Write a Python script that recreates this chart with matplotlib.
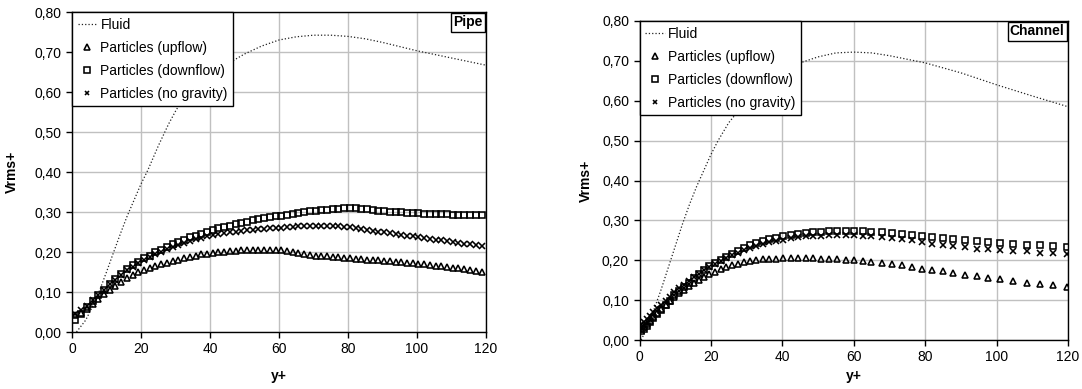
import matplotlib
matplotlib.use('Agg')
import matplotlib.pyplot as plt
from matplotlib.ticker import FixedLocator

plt.rcParams['font.family'] = ['Liberation Sans', 'DejaVu Sans']

# ---------------------------------------------------------------
# data
# ---------------------------------------------------------------
y_ticks = [0.0, 0.1, 0.2, 0.3, 0.4, 0.5, 0.6, 0.7, 0.8]
y_tick_labels = ['0,00', '0,10', '0,20', '0,30', '0,40', '0,50', '0,60', '0,70', '0,80']
x_ticks = [0, 20, 40, 60, 80, 100, 120]

# pipe
pipe_fluid_x = [1.3, 4, 6, 8, 10, 12, 14, 16, 18, 20, 22, 25, 28, 30, 33, 36, 40, 45, 50,
                55, 60, 65, 70, 75, 80, 85, 90, 100, 110, 120]
pipe_fluid = [0.0, 0.03, 0.065, 0.104, 0.15, 0.198, 0.245, 0.29, 0.33, 0.37, 0.405, 0.465,
              0.52, 0.552, 0.595, 0.625, 0.648, 0.670, 0.695, 0.715, 0.730, 0.738, 0.742,
              0.742, 0.739, 0.733, 0.724, 0.703, 0.685, 0.667]

pipe_x = [1, 2.7, 4.3, 6, 7.6, 9.3, 11, 12.6, 14.3, 15.9, 17.6, 19.2, 20.9, 22.6, 24.2,
          25.9, 27.5, 29.2, 30.8, 32.5, 34.2, 35.8, 37.5, 39.1, 40.8, 42.4, 44.1, 45.8,
          47.4, 49.1, 50.7, 52.4, 54, 55.7, 57.4, 59, 60.7, 62.3, 64, 65.6, 67.3, 69, 70.6,
          72.3, 73.9, 75.6, 77.2, 78.9, 80.6, 82.2, 83.9, 85.5, 87.2, 88.8, 90.5, 92.2,
          93.8, 95.5, 97.1, 98.8, 100.4, 102.1, 103.8, 105.4, 107.1, 108.7, 110.4, 112,
          113.7, 115.4, 117, 118.7]
pipe_up = [0.042, 0.048, 0.058, 0.071, 0.082, 0.094, 0.106, 0.116, 0.126, 0.135, 0.142,
           0.149, 0.155, 0.160, 0.165, 0.169, 0.173, 0.177, 0.181, 0.185, 0.188, 0.191,
           0.194, 0.196, 0.198, 0.200, 0.201, 0.202, 0.203, 0.204, 0.204, 0.205, 0.205,
           0.205, 0.205, 0.205, 0.204, 0.203, 0.200, 0.197, 0.195, 0.193, 0.191, 0.190,
           0.189, 0.188, 0.187, 0.185, 0.184, 0.183, 0.182, 0.181, 0.180, 0.179, 0.178,
           0.177, 0.176, 0.175, 0.173, 0.172, 0.170, 0.169, 0.167, 0.166, 0.164, 0.162,
           0.160, 0.159, 0.157, 0.155, 0.152, 0.149]
pipe_down = [0.030, 0.045, 0.062, 0.078, 0.092, 0.106, 0.120, 0.133, 0.146, 0.157, 0.167,
             0.176, 0.184, 0.191, 0.199, 0.206, 0.212, 0.219, 0.225, 0.231, 0.237, 0.241,
             0.246, 0.251, 0.255, 0.259, 0.263, 0.266, 0.270, 0.273, 0.276, 0.279, 0.282,
             0.284, 0.287, 0.289, 0.291, 0.293, 0.295, 0.297, 0.300, 0.302, 0.303, 0.305,
             0.306, 0.307, 0.308, 0.309, 0.309, 0.309, 0.308, 0.307, 0.305, 0.303, 0.302,
             0.301, 0.300, 0.299, 0.298, 0.297, 0.297, 0.296, 0.295, 0.295, 0.294, 0.294,
             0.293, 0.293, 0.292, 0.292, 0.293, 0.293]
pipe_nog = [0.044, 0.054, 0.066, 0.080, 0.093, 0.106, 0.119, 0.131, 0.143, 0.154, 0.163,
            0.172, 0.180, 0.187, 0.194, 0.201, 0.207, 0.213, 0.218, 0.223, 0.228, 0.232,
            0.236, 0.239, 0.242, 0.245, 0.247, 0.249, 0.251, 0.253, 0.254, 0.256, 0.257,
            0.258, 0.259, 0.260, 0.261, 0.262, 0.263, 0.264, 0.265, 0.265, 0.265, 0.265,
            0.265, 0.265, 0.264, 0.263, 0.262, 0.260, 0.258, 0.256, 0.253, 0.251, 0.249,
            0.247, 0.245, 0.243, 0.241, 0.239, 0.237, 0.235, 0.233, 0.231, 0.229, 0.227,
            0.225, 0.223, 0.221, 0.219, 0.217, 0.214]

# channel
chan_fluid_x = [0.5, 2, 4, 6, 8, 10, 12, 14, 16, 18, 20, 22, 25, 30, 35, 40, 45, 50, 55,
                60, 65, 70, 80, 90, 100, 110, 120]
chan_fluid = [0.0, 0.03, 0.075, 0.125, 0.18, 0.235, 0.29, 0.34, 0.385, 0.425, 0.465, 0.50,
              0.545, 0.60, 0.64, 0.67, 0.695, 0.71, 0.72, 0.722, 0.72, 0.713, 0.695, 0.67,
              0.64, 0.612, 0.585]

chan_x = [0.5, 1.2, 2.0, 2.9, 3.9, 5.0, 6.1, 7.3, 8.5, 9.8, 11.1, 12.4, 13.8, 15.2, 16.6,
          18.1, 19.6, 21.1, 22.7, 24.3, 25.9, 27.6, 29.3, 31.0, 32.7, 34.5, 36.3, 38.2,
          40.2, 42.3, 44.4, 46.5, 48.6, 50.8, 53.1, 55.3, 57.7, 60.0, 62.6, 64.9, 67.8,
          70.6, 73.4, 76.2, 79.0, 81.8, 85.0, 87.8, 91.1, 94.4, 97.7, 100.9, 104.7, 108.4,
          112.1, 115.9, 119.8]
chan_up = [0.028, 0.033, 0.040, 0.048, 0.057, 0.067, 0.077, 0.087, 0.097, 0.108, 0.117,
           0.126, 0.135, 0.143, 0.151, 0.158, 0.165, 0.171, 0.177, 0.182, 0.187, 0.191,
           0.195, 0.198, 0.200, 0.202, 0.203, 0.204, 0.205, 0.205, 0.205, 0.205, 0.205,
           0.204, 0.203, 0.202, 0.201, 0.200, 0.198, 0.196, 0.193, 0.190, 0.187, 0.183,
           0.179, 0.176, 0.172, 0.168, 0.164, 0.160, 0.156, 0.152, 0.148, 0.144, 0.140,
           0.137, 0.134]
chan_down = [0.022, 0.028, 0.036, 0.045, 0.055, 0.065, 0.076, 0.088, 0.099, 0.112, 0.123,
             0.133, 0.144, 0.155, 0.165, 0.175, 0.185, 0.193, 0.201, 0.209, 0.216, 0.224,
             0.231, 0.237, 0.243, 0.248, 0.253, 0.257, 0.261, 0.264, 0.267, 0.269, 0.271,
             0.272, 0.273, 0.274, 0.274, 0.274, 0.273, 0.272, 0.270, 0.268, 0.266, 0.264,
             0.262, 0.259, 0.256, 0.253, 0.251, 0.248, 0.246, 0.244, 0.241, 0.239, 0.237,
             0.235, 0.234]
chan_nog = [0.040, 0.045, 0.052, 0.060, 0.069, 0.079, 0.089, 0.099, 0.109, 0.120, 0.130,
            0.139, 0.149, 0.158, 0.166, 0.175, 0.183, 0.191, 0.198, 0.205, 0.212, 0.219,
            0.225, 0.231, 0.236, 0.241, 0.245, 0.249, 0.252, 0.255, 0.258, 0.260, 0.261,
            0.262, 0.263, 0.263, 0.263, 0.263, 0.262, 0.261, 0.259, 0.257, 0.254, 0.250,
            0.246, 0.242, 0.238, 0.235, 0.232, 0.229, 0.227, 0.226, 0.224, 0.222, 0.219,
            0.217, 0.215]


# ---------------------------------------------------------------
def draw_panel(ax, title, fx, fy, px, up, down, nog, ylab_x, xlab_y):
    ax.plot(fx, fy, linestyle=':', color='#222222', linewidth=0.9, label='Fluid')
    ax.plot(px, up, linestyle='none', marker='^', markersize=4.6, markerfacecolor='none',
            markeredgecolor='black', markeredgewidth=1.15, label='Particles (upflow)')
    ax.plot(px, down, linestyle='none', marker='s', markersize=4.6, markerfacecolor='none',
            markeredgecolor='black', markeredgewidth=1.15, label='Particles (downflow)')
    ax.plot(px, nog, linestyle='none', marker='x', markersize=4.0,
            markeredgecolor='black', markeredgewidth=1.15, label='Particles (no gravity)')

    ax.set_xlim(0, 120)
    ax.set_ylim(0, 0.8)
    ax.xaxis.set_major_locator(FixedLocator(x_ticks))
    ax.set_yticks(y_ticks)
    ax.set_yticklabels(y_tick_labels)
    ax.tick_params(direction='out', length=4, width=1, labelsize=10, colors='black')
    ax.grid(True, color='#c0c0c0', linewidth=1)
    ax.set_axisbelow(True)
    for s in ax.spines.values():
        s.set_color('black')
        s.set_linewidth(1)

    ax.set_ylabel('Vrms+', fontsize=10, fontweight='bold')
    ax.set_xlabel('y+', fontsize=10, fontweight='bold', va='top')
    ax.yaxis.set_label_coords(ylab_x, 0.5)
    ax.xaxis.set_label_coords(0.5, xlab_y)

    leg = ax.legend(loc='upper left', borderaxespad=0, fontsize=10, numpoints=1,
                    handlelength=1.4, handletextpad=0.25, borderpad=0.4,
                    labelspacing=0.65, fancybox=False, framealpha=1, markerscale=0.8)
    leg.get_frame().set_edgecolor('black')
    leg.get_frame().set_linewidth(1)

    ax.annotate(title, xy=(1, 1), xycoords='axes fraction', xytext=(-2.5, -2.5),
                textcoords='offset points', ha='right', va='top', fontsize=10,
                fontweight='bold',
                bbox=dict(boxstyle='square,pad=0.15', fc='white', ec='black', lw=1))


fig = plt.figure(figsize=(10.82, 3.89), dpi=100)
ax1 = fig.add_axes([72 / 1082, 57 / 389, 414 / 1082, 320 / 389])
ax2 = fig.add_axes([639.5 / 1082, 49 / 389, 428.5 / 1082, 319 / 389])

draw_panel(ax1, 'Pipe', pipe_fluid_x, pipe_fluid, pipe_x, pipe_up, pipe_down, pipe_nog,
           -0.128, -0.115)
draw_panel(ax2, 'Channel', chan_fluid_x, chan_fluid, chan_x, chan_up, chan_down, chan_nog,
           -0.1085, -0.09)

fig.savefig('out.png', dpi=100)
